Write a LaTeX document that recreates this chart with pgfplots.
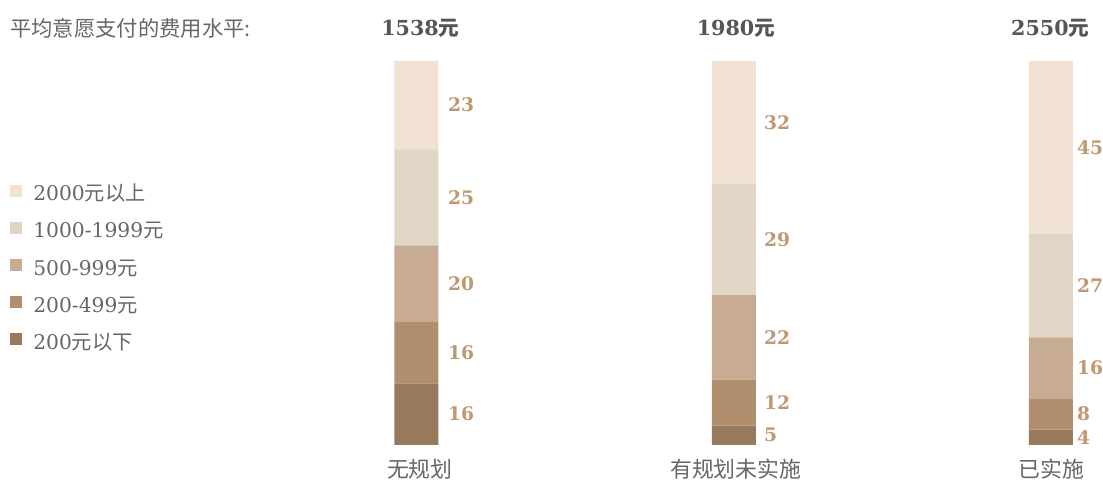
\documentclass[border=0pt]{standalone}
\usepackage{pgfplots}
\pgfplotsset{compat=1.18}
\usepackage{fontspec}
\setmainfont{DejaVu Serif}
\newfontfamily\cjk{Noto Sans CJK SC}
\definecolor{c1}{HTML}{977A5D}
\definecolor{c2}{HTML}{B18F6E}
\definecolor{c3}{HTML}{C7AB92}
\definecolor{c4}{HTML}{E1D5C5}
\definecolor{c5}{HTML}{F2E2D4}
\definecolor{lbl}{HTML}{BF9872}
\definecolor{txt}{HTML}{666666}
\definecolor{ttl}{HTML}{555555}
\begin{document}
\begin{tikzpicture}
\begin{axis}[
  scale only axis, width=827.25pt, height=359.25pt,
  xmin=0, xmax=1103, ymin=-8.854, ymax=115.885,
  hide axis, clip=false,
  ybar stacked, bar width=44,
  reverse legend,
  legend cell align=left,
  legend image code/.code={\fill[#1,draw=none] (0pt,-1pt) rectangle (9pt,8pt);},
  legend style={at={(axis cs:10,45.8)}, anchor=west, draw=none, fill=none, inner sep=0pt,
    font=\fontsize{15.2}{18}\selectfont, text=txt, row sep=12.9pt,
    nodes={inner sep=0pt, text height=11pt, text depth=3pt},
    /tikz/every odd column/.append style={column sep=8.25pt}},
]
\path (axis cs:0,-8.854) rectangle (axis cs:1103,115.885);
\addplot[fill=c1,draw=none] coordinates {(416.5,16) (734,5) (1051,4)};
\addlegendentry{200{\cjk 元以下}}
\addplot[fill=c2,draw=none] coordinates {(416.5,16) (734,12) (1051,8)};
\addlegendentry{200-499{\cjk 元}}
\addplot[fill=c3,draw=none] coordinates {(416.5,20) (734,22) (1051,16)};
\addlegendentry{500-999{\cjk 元}}
\addplot[fill=c4,draw=none] coordinates {(416.5,25) (734,29) (1051,27)};
\addlegendentry{1000-1999{\cjk 元}}
\addplot[fill=c5,draw=none] coordinates {(416.5,23) (734,32) (1051,45)};
\addlegendentry{2000{\cjk 元以上}}

\node[anchor=west, inner sep=0pt, text=txt, font=\fontsize{16}{18}\selectfont] at (axis cs:10,108.6) {\cjk 平均意愿支付的费用水平:};

\tikzset{ttlnode/.style={text=ttl, inner sep=0pt, font=\fontsize{15.5}{18}\selectfont\bfseries}}
\node[ttlnode] at (axis cs:420.5,108.6) {1538{\cjk 元}};
\node[ttlnode] at (axis cs:736,108.6) {1980{\cjk 元}};
\node[ttlnode] at (axis cs:1050.5,108.6) {2550{\cjk 元}};

\tikzset{catnode/.style={text=txt, inner sep=0pt, font=\fontsize{16.4}{18}\selectfont\cjk}}
\node[catnode] at (axis cs:420,-6.25) {无规划};
\node[catnode] at (axis cs:736,-6.25) {有规划未实施};
\node[catnode] at (axis cs:1052,-6.25) {已实施};

\tikzset{vnode/.style={anchor=west, text=lbl, inner sep=0pt, font=\fontsize{14}{16}\selectfont\bfseries}}
\node[vnode] at (axis cs:448,8) {16};
\node[vnode] at (axis cs:448,24) {16};
\node[vnode] at (axis cs:448,42) {20};
\node[vnode] at (axis cs:448,64.5) {25};
\node[vnode] at (axis cs:448,88.5) {23};
\node[vnode] at (axis cs:764,2.5) {5};
\node[vnode] at (axis cs:764,11) {12};
\node[vnode] at (axis cs:764,28) {22};
\node[vnode] at (axis cs:764,53.5) {29};
\node[vnode] at (axis cs:764,84) {32};
\node[vnode] at (axis cs:1077,2) {4};
\node[vnode] at (axis cs:1077,8) {8};
\node[vnode] at (axis cs:1077,20) {16};
\node[vnode] at (axis cs:1077,41.5) {27};
\node[vnode] at (axis cs:1077,77.5) {45};
\end{axis}
\end{tikzpicture}
\end{document}
